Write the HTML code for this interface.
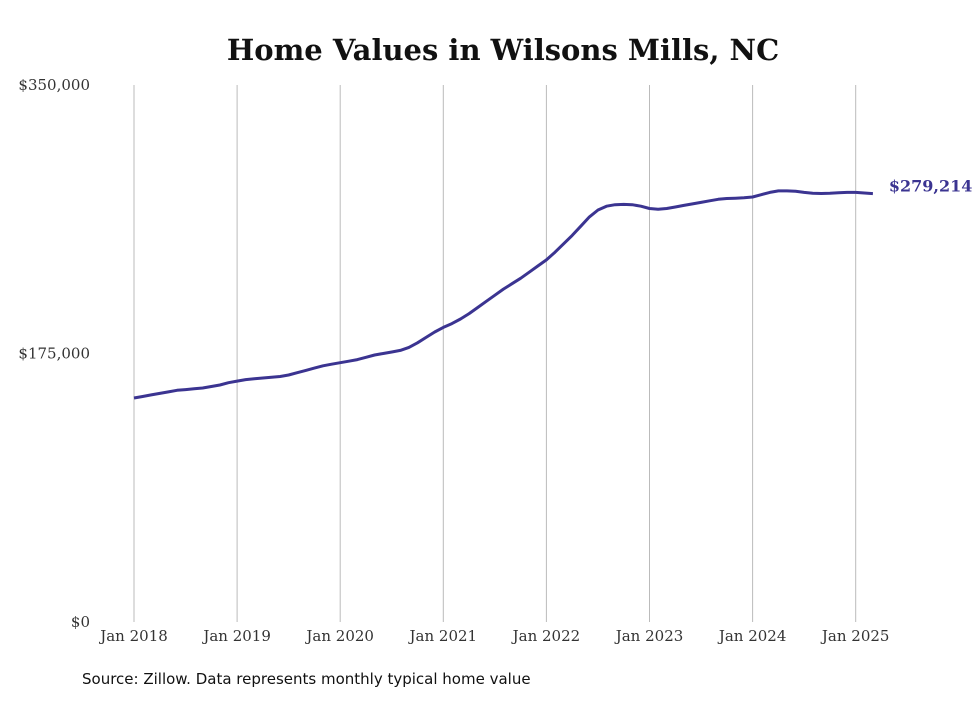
<!DOCTYPE html>
<html><head><meta charset="utf-8"><style>
body{margin:0;background:#fff;}
svg text{font-family:"DejaVu Serif","Liberation Serif",serif;}
</style></head><body>
<svg width="980" height="699" xmlns="http://www.w3.org/2000/svg">
<text x="503" y="60" text-anchor="middle" font-size="29" font-weight="bold" fill="#111">Home Values in Wilsons Mills, NC</text>
<g id="grid"></g>
<g id="yaxis"></g>
<g id="xaxis"></g>
<path id="line" fill="none" stroke="#3b3491" stroke-width="3" stroke-linejoin="round"/>
<text id="endlabel" font-size="16" font-weight="bold" fill="#3b3491"></text>
<text x="82" y="684" font-size="15" fill="#111" style="font-family:'DejaVu Sans',sans-serif">Source: Zillow. Data represents monthly typical home value</text>
</svg>
<script>
const startYear = 2018;
const yearLabels = ["Jan 2018","Jan 2019","Jan 2020","Jan 2021","Jan 2022","Jan 2023","Jan 2024","Jan 2025"];
const yTicks = [0,175000,350000];
const yTickLabels = ["$0","$175,000","$350,000"];
const values = [
146,147,148,149,150,151,151.5,152,152.5,153.5,154.5,156,
157,158,158.5,159,159.5,160,161,162.5,164,165.5,167,168,
169,170,171,172.5,174,175,176,177,179,182,185.5,189,
192,194.5,197.5,201,205,209,213,217,220.5,224,228,232,
236,241,246.5,252,258,264,268.5,271,272,272.2,272,271,
269.5,269,269.5,270.5,271.5,272.5,273.5,274.5,275.5,276,276.2,276.5,
277,278.5,280,281,281,280.7,280,279.5,279.3,279.5,279.8,280,
280,279.6,279.214].map(v=>v*1000);
const lastLabel = "$279,214";
const NS="http://www.w3.org/2000/svg";
const x = m => 134 + m*(103.1/12);
const y = v => 622 - v*(537/350000);
const grid=document.getElementById('grid'), xa=document.getElementById('xaxis'), ya=document.getElementById('yaxis');
yearLabels.forEach((lab,i)=>{
  const l=document.createElementNS(NS,'line');
  
  
  l.setAttribute('x1',x(i*12));l.setAttribute('x2',x(i*12));l.setAttribute('y1',85);l.setAttribute('y2',622);
  l.setAttribute('stroke','#bbb');l.setAttribute('stroke-width','1');
  grid.appendChild(l);
  const t=document.createElementNS(NS,'text');
  
  
  t.setAttribute('x',x(i*12));t.setAttribute('y',641);t.setAttribute('text-anchor','middle');
  t.setAttribute('font-size','15');t.setAttribute('fill','#333');t.textContent=lab;
  xa.appendChild(t);
});
yTicks.forEach((v,i)=>{
  const t=document.createElementNS(NS,'text');
  
  
  t.setAttribute('x',90);t.setAttribute('y',y(v)+5);t.setAttribute('text-anchor','end');
  t.setAttribute('font-size','15');t.setAttribute('fill','#333');t.textContent=yTickLabels[i];
  ya.appendChild(t);
});
document.getElementById('line').setAttribute('d',values.map((v,i)=>(i?'L':'M')+x(i).toFixed(1)+','+y(v).toFixed(1)).join(''));
const el=document.getElementById('endlabel');
el.setAttribute('x',x(values.length-1)+16);el.setAttribute('y',y(values[values.length-1])-2);el.textContent=lastLabel;
</script>
</body></html>
